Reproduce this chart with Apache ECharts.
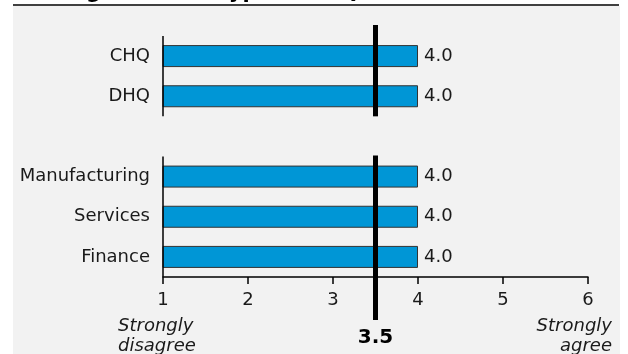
<!DOCTYPE html>
<html>
<head>
<meta charset="utf-8">
<script src="https://cdn.jsdelivr.net/npm/echarts@6/dist/echarts.min.js"></script>
<style>
  html, body { margin: 0; padding: 0; background: #ffffff; }
  #chart { width: 628px; height: 354px; }
</style>
</head>
<body>
<div id="chart"></div>
<script>
// Mean agreement score per HQ type / industry (1–6 scale); blank entry separates the groups
const categories = ['CHQ', 'DHQ', '', 'Manufacturing', 'Services', 'Finance'];
const values = [4.0, 4.0, null, 4.0, 4.0, 4.0];
const scaleTicks = [1, 2, 3, 4, 5, 6];
const midpoint = 3.5;
const scaleEndLabels = ['Strongly\ndisagree', 'Strongly\nagree'];
const titleText = 'Averages across types of HQ or industries';

const FONT = 'DejaVu Sans, Verdana, sans-serif';
const TEXT = '#1a1a1a';

const chart = echarts.init(document.getElementById('chart'), null, { renderer: 'canvas' });

chart.setOption({
  animation: false,
  backgroundColor: 'transparent',
  grid: { left: 163, right: 40, top: 36, bottom: 77, containLabel: false },
  xAxis: {
    type: 'value',
    min: scaleTicks[0],
    max: scaleTicks[scaleTicks.length - 1],
    interval: 1,
    splitLine: { show: false },
    axisLine: { show: true, lineStyle: { color: '#000', width: 1.5 } },
    axisTick: { show: true, inside: false, length: 7, lineStyle: { color: '#000', width: 1.5 } },
    axisLabel: { color: TEXT, fontFamily: FONT, fontSize: 18, margin: 14 }
  },
  yAxis: {
    type: 'category',
    data: categories,
    inverse: true,
    axisLine: { show: false },
    axisTick: { show: false },
    splitLine: { show: false },
    axisLabel: { color: TEXT, fontFamily: FONT, fontSize: 18, margin: 13 }
  },
  series: [{
    type: 'bar',
    data: values,
    barWidth: 22,
    clip: true,
    itemStyle: { color: '#0096D6', borderColor: '#333', borderWidth: 1 },
    label: {
      show: true,
      position: 'right',
      distance: 6,
      color: TEXT,
      fontFamily: FONT,
      fontSize: 18,
      formatter: p => p.value.toFixed(1)
    }
  }]
});

// Axis segments and the midpoint marker, placed through the chart's own scales
const px = v => chart.convertToPixel({ xAxisIndex: 0 }, v);
const py = c => chart.convertToPixel({ yAxisIndex: 0 }, c);
const band = py(categories[1]) - py(categories[0]);
const xStart = px(scaleTicks[0]);
const xEnd = px(scaleTicks[scaleTicks.length - 1]);
const xMid = px(midpoint);
const axisY = py(categories[categories.length - 1]) + band / 2;

// contiguous runs of non-empty categories
const runs = [];
let cur = null;
categories.forEach((c, i) => {
  if (c) {
    if (!cur) { cur = { first: i, last: i }; runs.push(cur); } else { cur.last = i; }
  } else { cur = null; }
});

const elements = [
  { type: 'rect', z: -10, shape: { x: 13, y: 6, width: 607, height: 348 }, style: { fill: '#f2f2f2' } },
  { type: 'line', z: 5, shape: { x1: 13, y1: 5, x2: 619, y2: 5 }, style: { stroke: '#000', lineWidth: 1.5 } },
  { type: 'text', z: 5, x: 18, y: 3,
    style: { text: titleText, font: 'bold 21px ' + FONT, fill: '#000', align: 'left', verticalAlign: 'bottom' } }
];

runs.forEach((r, k) => {
  const top = py(categories[r.first]) - band / 2;
  const bottom = py(categories[r.last]) + band / 2;
  elements.push({ type: 'line', z: 6, shape: { x1: xStart, y1: top, x2: xStart, y2: bottom },
    style: { stroke: '#000', lineWidth: 1.5 } });
  const isLast = k === runs.length - 1;
  elements.push({ type: 'line', z: 20,
    shape: { x1: xMid, y1: k === 0 ? top - 11 : top - 1, x2: xMid, y2: isLast ? axisY + 43 : bottom },
    style: { stroke: '#000', lineWidth: 5 } });
});

elements.push({ type: 'text', z: 20, x: xMid, y: axisY + 61,
  style: { text: midpoint.toFixed(1), font: 'bold 20px ' + FONT, fill: '#000', align: 'center', verticalAlign: 'middle' } });
elements.push({ type: 'text', z: 20, x: xStart - 45, y: axisY + 39,
  style: { text: scaleEndLabels[0], font: 'italic 18px ' + FONT, fill: TEXT, align: 'left', verticalAlign: 'top', lineHeight: 20 } });
elements.push({ type: 'text', z: 20, x: xEnd + 24, y: axisY + 39,
  style: { text: scaleEndLabels[1], font: 'italic 18px ' + FONT, fill: TEXT, align: 'right', verticalAlign: 'top', lineHeight: 20 } });

chart.setOption({ graphic: { elements } });
</script>
</body>
</html>
